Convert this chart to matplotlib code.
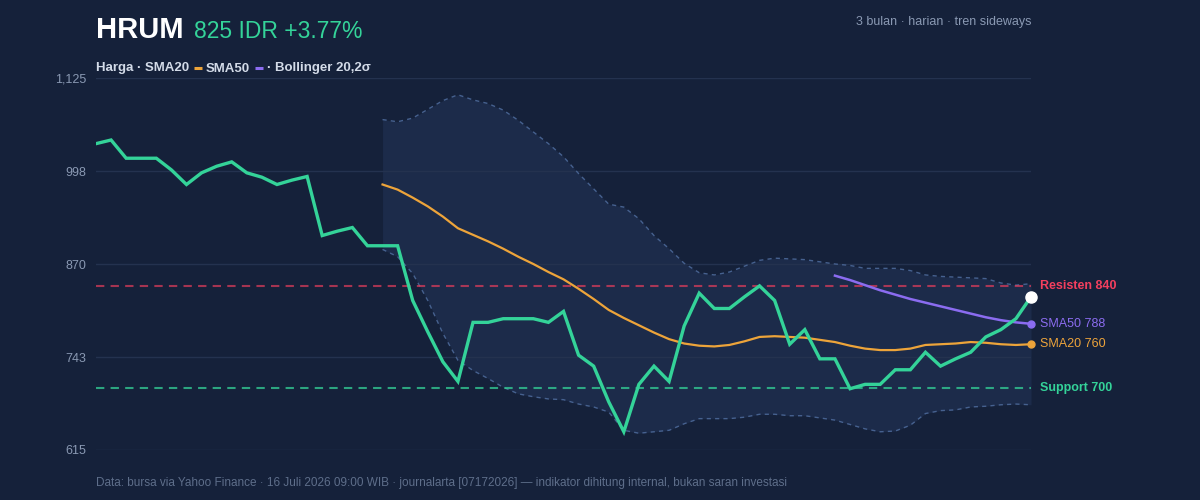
import matplotlib.pyplot as plt
from matplotlib.lines import Line2D

plt.rcParams['font.family'] = ['Liberation Sans', 'DejaVu Sans']

# daily closes, 63 sessions (index 0..62)
price = [1035, 1040, 1015, 1015, 1015, 999, 979, 995, 1004, 1010,
         995, 989, 979, 985, 990, 909, 915, 920, 895, 895,
         895, 820, 777, 736, 709, 790, 790, 795, 795, 795,
         790, 805, 745, 730, 681, 640, 705, 730, 709, 785,
         830, 809, 809, 825, 840, 820, 760, 780, 740, 740,
         699, 705, 705, 725, 725, 749, 730, 740, 749, 770,
         780, 795, 825]

# indicators (start where enough history exists)
sma20_start = 19
sma20 = [979, 972, 961, 949, 935, 919, 910, 901, 891, 880, 870, 859,
         849, 836, 822, 807, 796, 786, 776, 767, 761, 758, 757, 759,
         764, 770, 771, 770, 769, 766, 763, 758, 754, 752, 752, 754,
         759, 760, 761, 763, 762, 760, 759, 760]
sma50_start = 49
sma50 = [854, 848, 841, 834, 828, 822, 817, 812, 807, 802, 797, 793, 790, 788]
bb_upper = [1068, 1065, 1070, 1082, 1094, 1102, 1095, 1090, 1081, 1067, 1051, 1035,
            1017, 994, 973, 952, 948, 932, 909, 891, 871, 858, 855, 859,
            867, 875, 878, 877, 876, 873, 870, 868, 864, 864, 864, 861,
            855, 853, 852, 851, 850, 844, 841, 843]
bb_lower = [890, 880, 857, 820, 775, 738, 724, 713, 701, 692, 688, 685,
            684, 678, 674, 667, 642, 638, 640, 642, 651, 658, 658, 658,
            660, 664, 664, 662, 662, 659, 656, 650, 644, 640, 641, 649,
            665, 669, 670, 674, 675, 677, 678, 677]

resistance = 840
support = 700
last_price = 825
change_pct = 3.77
sma20_last = 760
sma50_last = 788

y_ticks = [615, 742.5, 870, 997.5, 1125]
y_tick_labels = ['615', '743', '870', '998', '1,125']

BG = '#15213a'
GREEN = '#34d399'
ORANGE = '#eda43a'
PURPLE = '#8b6cf0'
RED = '#f43f5e'
W, H = 1200, 500

fig = plt.figure(figsize=(12, 5), dpi=100, facecolor=BG)
ax = fig.add_axes([96 / W, 1 - 450 / H, (1031 - 96) / W, (450 - 78) / H])
ax.set_facecolor(BG)

days = list(range(len(price)))
d20 = list(range(sma20_start, sma20_start + len(sma20)))
d50 = list(range(sma50_start, sma50_start + len(sma50)))

# bollinger band (fill sits under the grid)
ax.fill_between(d20, bb_lower, bb_upper, color='#1c2b4a', lw=0, zorder=0.2)
ax.plot(d20, bb_upper, color='#46618f', lw=1, ls=(0, (3, 3)), zorder=2)
ax.plot(d20, bb_lower, color='#46618f', lw=1, ls=(0, (3, 3)), zorder=2)

# support / resistance
ax.axhline(resistance, color=RED, alpha=0.65, lw=1.5, ls=(0, (4, 3)), zorder=2)
ax.axhline(support, color=GREEN, alpha=0.75, lw=1.5, ls=(0, (4, 3)), zorder=2)

ax.plot(d20, sma20, color=ORANGE, lw=1.6, zorder=3)
ax.plot(d50, sma50, color=PURPLE, lw=1.8, zorder=3)
ax.plot(days, price, color=GREEN, lw=2.4, solid_joinstyle='miter', zorder=4)

# end markers
ax.plot(days[-1], last_price, 'o', color='white', ms=8, zorder=6, clip_on=False)
ax.plot(d50[-1], sma50[-1], 'o', color=PURPLE, ms=5, zorder=5, clip_on=False)
ax.plot(d20[-1], sma20[-1], 'o', color=ORANGE, ms=5, zorder=5, clip_on=False)

# right-hand labels
def right_label(y, text, color, weight='normal'):
    ax.annotate(text, xy=(days[-1], y), xytext=(6.5, 0), textcoords='offset points',
                va='center', ha='left', fontsize=9, color=color, fontweight=weight,
                annotation_clip=False)

right_label(resistance, f'Resisten {resistance}', RED, 'bold')
right_label(sma50[-1], f'SMA50 {sma50_last}', PURPLE)
right_label(sma20[-1], f'SMA20 {sma20_last}', ORANGE)
right_label(support, f'Support {support}', GREEN, 'bold')

# axes styling
ax.set_xlim(0, len(price) - 1)
ax.set_ylim(615, 1125)
ax.set_yticks(y_ticks)
ax.set_yticklabels(y_tick_labels)
ax.set_xticks([])
ax.tick_params(axis='y', length=0, pad=7, labelsize=9, labelcolor='#8a99b3')
ax.grid(axis='y', color='#24324f', lw=1)
ax.set_axisbelow(True)
for s in ax.spines.values():
    s.set_visible(False)

# header
fig.text(96 / W, 1 - 38.5 / H, 'HRUM', fontsize=21, fontweight='bold', color='white', va='baseline')
fig.text(194 / W, 1 - 38.5 / H, f'{last_price} IDR +{change_pct:.2f}%', fontsize=16.5,
         color=GREEN, va='baseline')
fig.text(1031 / W, 1 - 25.5 / H, '3 bulan · harian · tren sideways', fontsize=9,
         color='#8a99b3', ha='right', va='baseline')

# legend line with coloured dashes
renderer = fig.canvas.get_renderer()
pieces = [('text', 'Harga · SMA20'), ('dash', ORANGE), ('text', 'SMA50'),
          ('dash', PURPLE), ('text', '· Bollinger 20,2σ')]
x = 96
for kind, val in pieces:
    if kind == 'text':
        t = fig.text(x / W, 1 - 71.5 / H, val, fontsize=9.5, fontweight='bold',
                     color='#d3dbe8', va='baseline')
        x = t.get_window_extent(renderer).x1 + 4.5
    else:
        fig.add_artist(Line2D([x / W, (x + 8) / W], [1 - 67.5 / H] * 2, color=val, lw=2.2,
                              solid_capstyle='butt', transform=fig.transFigure))
        x += 8 + 4.5

# footer
fig.text(96 / W, 1 - 486 / H,
         'Data: bursa via Yahoo Finance · 16 Juli 2026 09:00 WIB · journalarta [07172026] '
         '— indikator dihitung internal, bukan saran investasi',
         fontsize=8.5, color='#5e6e8a', va='baseline')

fig.savefig('out.png', dpi=100, facecolor=BG)
